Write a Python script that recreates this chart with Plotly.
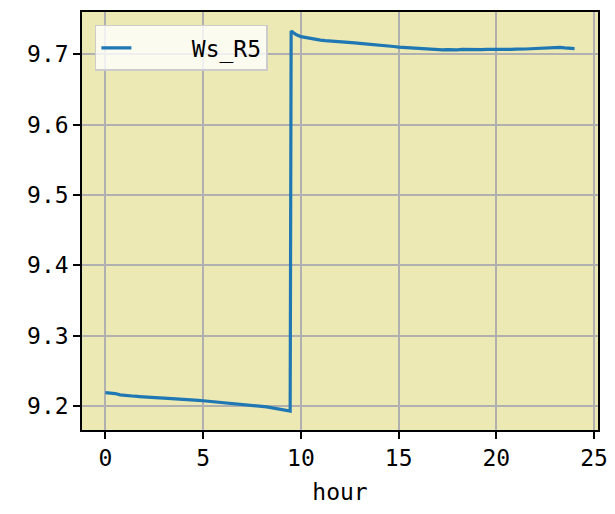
import plotly.graph_objects as go

hours_before = [0, 0.25, 0.5, 0.75, 1.0, 1.25, 1.5, 1.75, 2.0, 2.25, 2.5, 2.75, 3.0, 3.25, 3.5, 3.75,
                4.0, 4.25, 4.5, 4.75, 5.0, 5.25, 5.5, 5.75, 6.0, 6.25, 6.5, 6.75, 7.0, 7.25, 7.5, 7.75,
                8.0, 8.25, 8.5, 8.75, 9.0, 9.25, 9.45]
ws_before = [9.2190, 9.2185, 9.2178, 9.2160, 9.2150, 9.2147, 9.2140, 9.2135, 9.2128, 9.2124, 9.2120,
             9.2117, 9.2112, 9.2106, 9.2100, 9.2093, 9.2088, 9.2082, 9.2078, 9.2080, 9.2076, 9.2070,
             9.2063, 9.2058, 9.2052, 9.2048, 9.2040, 9.2035, 9.2028, 9.2020, 9.2013, 9.2005, 9.1995,
             9.1988, 9.1978, 9.1968, 9.1958, 9.1948, 9.1930]

hours_after = [9.5, 9.75, 10.0, 10.25, 10.5, 10.75, 11.0, 11.25, 11.5, 11.75, 12.0, 12.25, 12.5, 12.75,
               13.0, 13.25, 13.5, 13.75, 14.0, 14.25, 14.5, 14.75, 15.0, 15.25, 15.5, 15.75, 16.0,
               16.25, 16.5, 16.75, 17.0, 17.25, 17.5, 17.75, 18.0, 18.25, 18.5, 18.75, 19.0, 19.25,
               19.5, 19.75, 20.0, 20.25, 20.5, 20.75, 21.0, 21.25, 21.5, 21.75, 22.0, 22.25, 22.5,
               22.75, 23.0, 23.25, 23.5, 23.75, 24.0]
ws_after = [9.7330, 9.7280, 9.7250, 9.7235, 9.7220, 9.7210, 9.7200, 9.7192, 9.7185, 9.7188, 9.7180,
            9.7172, 9.7165, 9.7160, 9.7155, 9.7150, 9.7145, 9.7138, 9.7130, 9.7125, 9.7118, 9.7110,
            9.7100, 9.7095, 9.7088, 9.7082, 9.7078, 9.7072, 9.7070, 9.7068, 9.7063, 9.7062, 9.7066,
            9.7060, 9.7062, 9.7068, 9.7065, 9.7070, 9.7066, 9.7064, 9.7068, 9.7066, 9.7070, 9.7068,
            9.7065, 9.7068, 9.7072, 9.7070, 9.7074, 9.7078, 9.7082, 9.7080, 9.7085, 9.7088, 9.7092,
            9.7098, 9.7090, 9.7085, 9.7080]

hours = hours_before + hours_after
ws_r5 = ws_before + ws_after

x_ticks = [0, 5, 10, 15, 20, 25]
y_ticks = [9.2, 9.3, 9.4, 9.5, 9.6, 9.7]

FONT = "DejaVu Sans Mono, Liberation Mono, monospace"
FSIZE = 23

fig = go.Figure()
fig.add_trace(go.Scatter(x=hours, y=ws_r5, mode="lines", name="\u00a0\u00a0\u00a0\u00a0Ws_R5",
                         line=dict(color="#1f77b4", width=3.2)))

axis_common = dict(showline=True, linecolor="black", linewidth=1.5, mirror=True,
                   ticks="outside", ticklen=7, tickwidth=1.5, tickcolor="black",
                   showgrid=True, gridcolor="#b0b0b0", gridwidth=1.5, zeroline=False,
                   tickfont=dict(family=FONT, size=FSIZE, color="black"))

# page body has an 8px margin, so the figure is offset by (8, 8); compensate in margins
fig.update_layout(
    width=607, height=506,
    margin=dict(l=74, r=17, t=2, b=84),
    paper_bgcolor="white",
    plot_bgcolor="#ECE9B4",
    font=dict(family=FONT, size=FSIZE, color="black"),
    xaxis=dict(range=[-1.2, 25.2], tickvals=x_ticks, ticktext=[str(v) for v in x_ticks],
               title=dict(text="hour", font=dict(family=FONT, size=FSIZE), standoff=14), **axis_common),
    yaxis=dict(range=[9.166, 9.76], tickvals=y_ticks, ticktext=[f"{v:.1f}" for v in y_ticks],
               **axis_common),
    legend=dict(x=0.025, y=0.969, xanchor="left", yanchor="top",
                bgcolor="rgba(255,255,255,0.8)", bordercolor="#cccccc", borderwidth=1.5,
                font=dict(family=FONT, size=FSIZE)),
    showlegend=True,
)

fig.write_html("out.html")
